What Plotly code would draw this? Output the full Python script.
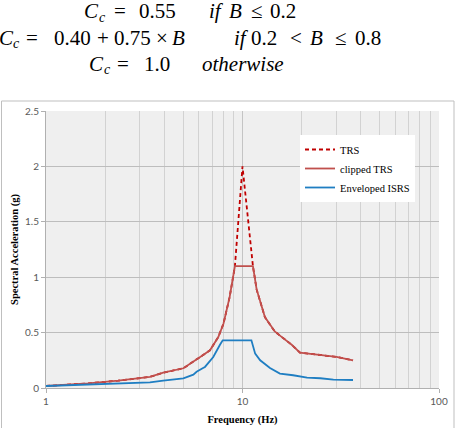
import plotly.graph_objects as go

# ---- data ----
trs_freq = [1.0, 1.64, 2.33, 3.01, 3.38, 3.95, 5.0, 6.09, 6.83, 7.53, 8.0, 8.6, 8.81,
            9.15, 10.0, 11.3, 11.8, 13.0, 14.6, 16.1, 17.8, 19.6, 22.0, 25.8, 30.1, 36.5]
trs_val = [0.018, 0.042, 0.066, 0.093, 0.10, 0.138, 0.178, 0.28, 0.34, 0.46, 0.58, 0.82, 0.945,
           1.10, 2.0, 1.10, 0.89, 0.64, 0.51, 0.45, 0.39, 0.32, 0.31, 0.29, 0.28, 0.25]

clip_freq = [1.0, 1.64, 2.33, 3.01, 3.38, 3.95, 5.0, 6.09, 6.83, 7.53, 8.0, 8.6, 8.81,
             9.15, 11.3, 11.8, 13.0, 14.6, 16.1, 17.8, 19.6, 22.0, 25.8, 30.1, 36.5]
clip_val = [0.018, 0.042, 0.066, 0.093, 0.10, 0.138, 0.178, 0.28, 0.34, 0.46, 0.58, 0.82, 0.945,
            1.10, 1.10, 0.89, 0.64, 0.51, 0.45, 0.39, 0.32, 0.31, 0.29, 0.28, 0.25]

isrs_freq = [1.0, 1.64, 2.33, 2.95, 3.38, 3.95, 5.0, 5.62, 5.84, 6.3, 6.44, 7.1, 7.39, 7.68, 7.93,
             11.1, 11.6, 12.3, 13.8, 15.5, 18.1, 21.3, 24.9, 29.0, 36.5]
isrs_val = [0.018, 0.03, 0.036, 0.048, 0.05, 0.066, 0.087, 0.12, 0.147, 0.18, 0.19, 0.28, 0.34, 0.39, 0.43,
            0.43, 0.31, 0.25, 0.18, 0.13, 0.115, 0.093, 0.088, 0.075, 0.072]

series_names = ["TRS", "clipped TRS", "Enveloped ISRS"]
x_ticks = [1, 10, 100]
x_minor = [2, 3, 4, 5, 6, 7, 8, 9, 20, 30, 40, 50, 60, 70, 80, 90]

# ---- geometry helpers (pixel -> paper) ----
W, H = 460, 428
L, R, T, B = 46, 439, 111, 388
def px(x):
    return (x - L) / (R - L)
def py(y):
    return (B - y) / (B - T)

fig = go.Figure()
fig.add_trace(go.Scatter(x=trs_freq, y=trs_val, name=series_names[0], mode="lines",
                         line=dict(color="#c00000", width=1.8, dash="4px,3px")))
fig.add_trace(go.Scatter(x=clip_freq, y=clip_val, name=series_names[1], mode="lines",
                         line=dict(color="#c0504d", width=1.8)))
fig.add_trace(go.Scatter(x=isrs_freq, y=isrs_val, name=series_names[2], mode="lines",
                         line=dict(color="#1f7ec2", width=1.8)))

tickfont = dict(family="Lato", size=10, color="#595959")
titlefont = dict(family="Liberation Serif", size=10.5, color="#000000")

fig.update_layout(
    width=W, height=H,
    margin=dict(l=L, r=W - R, t=T, b=H - B, pad=0, autoexpand=False),
    paper_bgcolor="white", plot_bgcolor="#efefef",
    showlegend=True,
    legend=dict(x=px(300), y=py(135), xanchor="left", yanchor="top",
                bgcolor="white", borderwidth=0,
                font=dict(family="Liberation Serif", size=10.5, color="#000"),
                itemwidth=30, tracegroupgap=0),
    xaxis=dict(type="log", range=[0, 2], tickvals=x_ticks, ticktext=[str(v) for v in x_ticks],
               automargin=False,
               showgrid=True, gridcolor="#c4c4c4", gridwidth=1,
               minor=dict(tickvals=x_minor, showgrid=True, gridcolor="#d2d2d2", gridwidth=1, ticks=""),
               ticks="outside", ticklen=4, tickcolor="#b0b0b0",
               showline=True, linecolor="#b0b0b0", zeroline=False,
               tickfont=tickfont,
               title=dict(text="<b>Frequency (Hz)</b>", font=titlefont, standoff=9)),
    yaxis=dict(range=[0, 2.5], dtick=0.5, tick0=0, automargin=False,
               showgrid=True, gridcolor="#bdbdbd", gridwidth=1,
               ticks="outside", ticklen=4, tickcolor="#b0b0b0",
               showline=True, linecolor="#b0b0b0", zeroline=False,
               tickfont=tickfont,
               title=dict(text="<b>Spectral Acceleration (g)</b>", font=titlefont, standoff=4)),
)

# chart frame
fig.add_shape(type="rect", xref="paper", yref="paper",
              x0=px(1.5), x1=px(454), y0=py(430), y1=py(101),
              line=dict(color="#bfbfbf", width=1), fillcolor="rgba(0,0,0,0)", layer="below")

# equations above the chart, token by token: (text, left x px, center y px, size)
eq_tokens = [
    ("<i>C</i>", 82, 11, 21), ("<i>c</i>", 97, 17, 14), ("=", 112, 11, 21), ("0.55", 137, 11, 21),
    ("<i>if</i>", 207, 11, 21), ("<i>B</i>", 227, 11, 21), ("≤", 249, 11, 21), ("0.2", 268, 11, 21),
    ("<i>C</i>", -3, 38, 21), ("<i>c</i>", 11, 44, 14), ("=", 24, 38, 21), ("0.40", 52, 38, 21),
    ("+", 95, 38, 21), ("0.75", 112, 38, 21), ("×", 154, 38, 21), ("<i>B</i>", 170, 38, 21),
    ("<i>if</i>", 232, 38, 21), ("0.2", 249, 38, 21), ("&lt;", 288, 38, 21), ("<i>B</i>", 308, 38, 21),
    ("≤", 333, 38, 21), ("0.8", 353, 38, 21),
    ("<i>C</i>", 87, 64, 21), ("<i>c</i>", 102, 70, 14), ("=", 115, 64, 21), ("1.0", 142, 64, 21),
    ("<i>otherwise</i>", 200, 64, 21),
]
for txt, x, y, s in eq_tokens:
    fig.add_annotation(text=txt, xref="paper", yref="paper", x=px(x), y=py(y),
                       xanchor="left", yanchor="middle", showarrow=False,
                       font=dict(family="Liberation Serif", size=s, color="#000"))

fig.write_html("out.html")
